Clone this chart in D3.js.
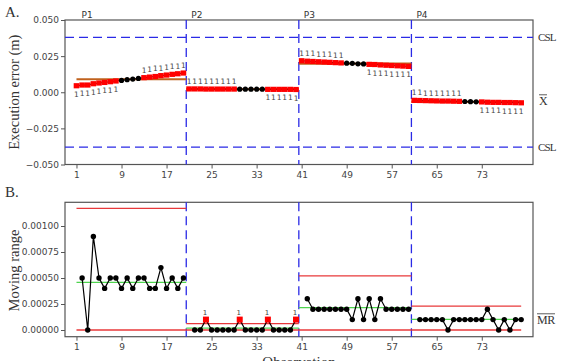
<!DOCTYPE html>
<html><head><meta charset="utf-8">
<script src="https://cdn.jsdelivr.net/npm/d3@7"></script>
<style>
html,body{margin:0;padding:0;background:#fff;}
svg{display:block;}
.tick text{font-family:"DejaVu Sans",Verdana,sans-serif;font-size:9px;fill:#444;}
.serif{font-family:"Liberation Serif","Times New Roman",serif;fill:#333;}
</style>
</head><body>
<svg id="c" width="564" height="361"></svg>
<script>
// ---------- data ----------
const observations = d3.range(1, 81);
const phaseNames = ["P1", "P2", "P3", "P4"];
const phaseStart = [1, 21, 41, 61];
const phaseEnd = [20, 40, 60, 80];

// individual values (execution error, m)
const errorValues = [
  0.0045, 0.0050, 0.0050, 0.0059, 0.0064, 0.0068, 0.0073, 0.0078, 0.0082, 0.0087,
  0.0091, 0.0096, 0.0101, 0.0105, 0.0109, 0.0115, 0.0119, 0.0124, 0.0128, 0.0133,
  0.0023, 0.0023, 0.0023, 0.0022, 0.0022, 0.0022, 0.0022, 0.0022, 0.0022, 0.0021,
  0.0021, 0.0021, 0.0021, 0.0021, 0.0020, 0.0020, 0.0020, 0.0020, 0.0020, 0.0019,
  0.0218, 0.0215, 0.0213, 0.0211, 0.0209, 0.0207, 0.0205, 0.0203, 0.0201, 0.0200,
  0.0197, 0.0196, 0.0193, 0.0192, 0.0189, 0.0187, 0.0185, 0.0183, 0.0181, 0.0179,
  -0.0056, -0.0057, -0.0058, -0.0059, -0.0060, -0.0061, -0.0061, -0.0062, -0.0063, -0.0064,
  -0.0065, -0.0066, -0.0067, -0.0069, -0.0070, -0.0070, -0.0071, -0.0071, -0.0072, -0.0073
];
// test-1 flag: 1 = flagged above centre, -1 = flagged below, 0 = ok
const errorFlags = [
  -1,-1,-1,-1,-1,-1,-1,-1, 0,0,0,0, 1,1,1,1,1,1,1,1,
  1,1,1,1,1,1,1,1,1, 0,0,0,0,0, -1,-1,-1,-1,-1,-1,
  1,1,1,1,1,1,1,1, 0,0,0,0, -1,-1,-1,-1,-1,-1,-1,-1,
  1,1,1,1,1,1,1,1,1, 0,0,0, -1,-1,-1,-1,-1,-1,-1,-1
];
const errorCenter = [0.0090, 0.0021, 0.0198, -0.0066];
const cslUpper = 0.038;
const cslLower = -0.038;

// moving range (null at phase start)
const movingRange = [
  null, 0.0005, 0, 0.0009, 0.0005, 0.0004, 0.0005, 0.0005, 0.0004, 0.0005,
  0.0004, 0.0005, 0.0005, 0.0004, 0.0004, 0.0006, 0.0004, 0.0005, 0.0004, 0.0005,
  null, 0, 0, 0.0001, 0, 0, 0, 0, 0, 0.0001,
  0, 0, 0, 0, 0.0001, 0, 0, 0, 0, 0.0001,
  null, 0.0003, 0.0002, 0.0002, 0.0002, 0.0002, 0.0002, 0.0002, 0.0002, 0.0001,
  0.0003, 0.0001, 0.0003, 0.0001, 0.0003, 0.0002, 0.0002, 0.0002, 0.0002, 0.0002,
  null, 0.0001, 0.0001, 0.0001, 0.0001, 0.0001, 0, 0.0001, 0.0001, 0.0001,
  0.0001, 0.0001, 0.0001, 0.0002, 0.0001, 0, 0.0001, 0, 0.0001, 0.0001
];
const mrFlags = [24, 30, 35, 40];
const mrMean = [0.000458, 0.000018, 0.000215, 0.000103];
const mrUCL = [0.00117, 0.000062, 0.00052, 0.00023];
const mrLCL = [0, 0, 0, 0];

const xTicks = [1, 9, 17, 25, 33, 41, 49, 57, 65, 73];
const errorTicks = [-0.05, -0.025, 0, 0.025, 0.05];
const mrTicks = [0, 0.00025, 0.0005, 0.00075, 0.001];

// ---------- layout ----------
const svg = d3.select("#c");
const L = 65, R = 533;
const topA = 20, botA = 164.5;
const topB = 202.3, botB = 336.7;
const blue = "#2a2ae6", red = "#ff0000", lineRed = "#e8383a", green = "#4fd44f", brown = "#c0621e", frame = "#555";

const x = d3.scaleLinear().domain([-1.04, 82.1]).range([L, R]);
const yA = d3.scaleLinear().domain([-0.05, 0.05]).range([botA, topA]);
const yB = d3.scaleLinear().domain([-0.0000644, 0.001228]).range([botB, topB]);

const segStart = i => i === 0 ? phaseStart[i] : phaseStart[i] - 0.5;
const segEnd = i => i === phaseNames.length - 1 ? phaseEnd[i] : phaseEnd[i] + 0.5;

function axes(g, y, ticks, fmt, top, bot) {
  const ax = g.append("g").attr("transform", `translate(0,${bot})`)
    .call(d3.axisBottom(x).tickValues(xTicks).tickSize(4).tickPadding(3).tickFormat(d3.format("d")));
  ax.select(".domain").remove();
  ax.selectAll(".tick line").attr("stroke", frame);
  const ay = g.append("g").attr("transform", `translate(${L},0)`)
    .call(d3.axisLeft(y).tickValues(ticks).tickSize(4).tickPadding(2).tickFormat(fmt));
  ay.select(".domain").remove();
  ay.selectAll(".tick line").attr("stroke", frame);
  g.append("rect").attr("x", L).attr("y", top).attr("width", R - L).attr("height", bot - top)
    .attr("fill", "none").attr("stroke", frame).attr("stroke-width", 1.2);
}

// ---------- chart A ----------
const gA = svg.append("g");
axes(gA, yA, errorTicks, d3.format(".3f"), topA, botA);

[cslUpper, cslLower].forEach(v => {
  gA.append("line").attr("x1", L).attr("x2", R).attr("y1", yA(v)).attr("y2", yA(v))
    .attr("stroke", blue).attr("stroke-width", 1.3).attr("stroke-dasharray", "9,5");
});
for (let i = 0; i < phaseNames.length - 1; i++) {
  const bx = x(phaseEnd[i] + 0.5);
  gA.append("line").attr("x1", bx).attr("x2", bx).attr("y1", topA).attr("y2", botA)
    .attr("stroke", blue).attr("stroke-width", 1.3).attr("stroke-dasharray", "9,5");
}
phaseNames.forEach((p, i) => {
  gA.append("text").attr("x", x(segStart(i)) + 5).attr("y", 17.5).text(p)
    .attr("font-family", "DejaVu Sans, sans-serif").attr("font-size", 9).attr("fill", "#333");
  gA.append("line").attr("x1", x(segStart(i))).attr("x2", x(segEnd(i)))
    .attr("y1", yA(errorCenter[i])).attr("y2", yA(errorCenter[i]))
    .attr("stroke", brown).attr("stroke-width", 2.2);
});

const ptsA = observations.map((o, k) => ({o, v: errorValues[k], f: errorFlags[k], ph: phaseStart.filter(s => s <= o).length - 1}));
phaseNames.forEach((p, i) => {
  const seg = ptsA.filter(d => d.ph === i);
  gA.append("path").datum(seg)
    .attr("d", d3.line().x(d => x(d.o)).y(d => yA(d.v)))
    .attr("fill", "none").attr("stroke", "#000").attr("stroke-width", 1);
});
gA.selectAll("circle.pt").data(ptsA.filter(d => d.f === 0)).join("circle")
  .attr("cx", d => x(d.o)).attr("cy", d => yA(d.v)).attr("r", 2.6).attr("fill", "#000");
gA.selectAll("rect.pt").data(ptsA.filter(d => d.f !== 0)).join("rect")
  .attr("x", d => x(d.o) - 2.8).attr("y", d => yA(d.v) - 2.6).attr("width", 5.6).attr("height", 5.2).attr("fill", red);
gA.selectAll("text.flag").data(ptsA.filter(d => d.f !== 0)).join("text")
  .attr("x", d => x(d.o)).attr("y", d => d.f > 0 ? yA(d.v) - 5 : yA(d.v) + 11)
  .attr("text-anchor", "middle").attr("font-family", "DejaVu Sans, sans-serif").attr("font-size", 7.5)
  .attr("fill", "#444").text("1");

gA.append("text").attr("class", "serif").attr("x", 5).attr("y", 17).attr("font-size", 15).text("A.");
gA.append("text").attr("class", "serif").attr("transform", `translate(19,${(topA + botA) / 2}) rotate(-90)`)
  .attr("text-anchor", "middle").attr("font-size", 14.5).text("Execution error (m)");
[cslUpper, cslLower].forEach(v => {
  gA.append("text").attr("class", "serif").attr("x", 538).attr("y", yA(v) + 4).attr("font-size", 11)
    .attr("letter-spacing", -0.8).text("CSL");
});
const xbarY = yA(errorCenter[errorCenter.length - 1]) - 0.5;
gA.append("text").attr("class", "serif").attr("x", 539).attr("y", xbarY + 4).attr("font-size", 12).text("X");
gA.append("line").attr("x1", 539).attr("x2", 547).attr("y1", xbarY - 6.5).attr("y2", xbarY - 6.5).attr("stroke", "#333").attr("stroke-width", 0.8);

// ---------- chart B ----------
const gB = svg.append("g");
axes(gB, yB, mrTicks, d3.format(".5f"), topB, botB);
for (let i = 0; i < phaseNames.length - 1; i++) {
  const bx = x(phaseEnd[i] + 0.5);
  gB.append("line").attr("x1", bx).attr("x2", bx).attr("y1", topB).attr("y2", botB)
    .attr("stroke", blue).attr("stroke-width", 1.3).attr("stroke-dasharray", "9,5");
}
phaseNames.forEach((p, i) => {
  const x1 = x(segStart(i)), x2 = x(segEnd(i));
  [[mrUCL[i], lineRed], [mrLCL[i], lineRed], [mrMean[i], green]].forEach(([v, c]) => {
    gB.append("line").attr("x1", x1).attr("x2", x2).attr("y1", yB(v)).attr("y2", yB(v))
      .attr("stroke", c).attr("stroke-width", 1.3);
  });
});
const ptsB = observations.map((o, k) => ({o, v: movingRange[k], ph: phaseStart.filter(s => s <= o).length - 1}))
  .filter(d => d.v !== null);
phaseNames.forEach((p, i) => {
  const seg = ptsB.filter(d => d.ph === i);
  gB.append("path").datum(seg)
    .attr("d", d3.line().x(d => x(d.o)).y(d => yB(d.v)))
    .attr("fill", "none").attr("stroke", "#000").attr("stroke-width", 1.2);
});
gB.selectAll("circle.pt").data(ptsB.filter(d => !mrFlags.includes(d.o))).join("circle")
  .attr("cx", d => x(d.o)).attr("cy", d => yB(d.v)).attr("r", 2.7).attr("fill", "#000");
const flB = ptsB.filter(d => mrFlags.includes(d.o));
gB.selectAll("rect.pt").data(flB).join("rect")
  .attr("x", d => x(d.o) - 3).attr("y", d => yB(d.v) - 3).attr("width", 6).attr("height", 6).attr("fill", red);
gB.selectAll("text.flag").data(flB).join("text")
  .attr("x", d => x(d.o) - 1).attr("y", d => yB(d.v) - 5)
  .attr("text-anchor", "middle").attr("font-family", "DejaVu Sans, sans-serif").attr("font-size", 7)
  .attr("fill", "#444").text("1");

gB.append("text").attr("class", "serif").attr("x", 5).attr("y", 197).attr("font-size", 15).text("B.");
gB.append("text").attr("class", "serif").attr("transform", `translate(19,${(topB + botB) / 2 + 1}) rotate(-90)`)
  .attr("text-anchor", "middle").attr("font-size", 14.5).text("Moving range");
const mrY = yB(mrMean[mrMean.length - 1]);
gB.append("text").attr("class", "serif").attr("x", 537).attr("y", mrY + 5).attr("font-size", 12).attr("letter-spacing", -0.5).text("MR");
gB.append("line").attr("x1", 537).attr("x2", 555).attr("y1", mrY - 5.5).attr("y2", mrY - 5.5).attr("stroke", "#333").attr("stroke-width", 0.8);
gB.append("text").attr("class", "serif").attr("x", (L + R) / 2).attr("y", 367).attr("text-anchor", "middle")
  .attr("font-size", 15).text("Observation");
</script>
</body></html>
